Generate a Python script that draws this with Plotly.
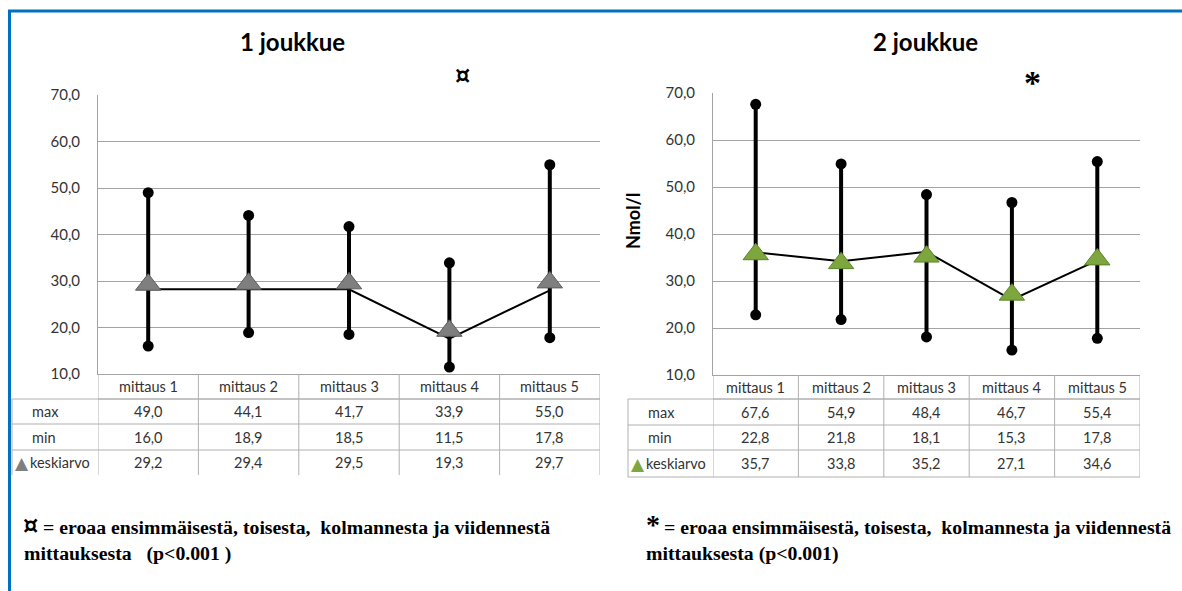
import plotly.graph_objects as go

W, H = 1182, 591

categories = ["mittaus 1", "mittaus 2", "mittaus 3", "mittaus 4", "mittaus 5"]
row_labels = ["max", "min", "keskiarvo"]

max_1 = [49.0, 44.1, 41.7, 33.9, 55.0]
min_1 = [16.0, 18.9, 18.5, 11.5, 17.8]
mean_1 = [29.2, 29.4, 29.5, 19.3, 29.7]
line_1 = [28.2, 28.2, 28.2, 17.6, 28.0]

max_2 = [67.6, 54.9, 48.4, 46.7, 55.4]
min_2 = [22.8, 21.8, 18.1, 15.3, 17.8]
mean_2 = [35.7, 33.8, 35.2, 27.1, 34.6]
line_2 = [36.1, 34.2, 36.2, 26.0, 34.4]

titles = ["1 joukkue", "2 joukkue"]
marks = ["¤", "*"]
y_title = "Nmol/l"
note_1 = ["= eroaa ensimmäisestä, toisesta,\u00a0\u00a0kolmannesta ja viidennestä",
          "mittauksesta\u00a0\u00a0\u00a0(p<0.001 )"]
note_2 = ["= eroaa ensimmäisestä, toisesta,\u00a0\u00a0kolmannesta ja viidennestä",
          "mittauksesta (p<0.001)"]

FONT = "Lato"
GRID = "#a3a3a3"
TABLE = "#b0b0b0"
TXT = "#333333"


def px(x):
    return x / W


def py(y):
    return 1 - y / H


fig = go.Figure()

panels = [
    dict(xa="x", ya="y", x0=98, x1=600, ytop=95, ybot=374, lab0=12,
         maxv=max_1, minv=min_1, meanv=mean_1, linev=line_1,
         tri="#7f7f7f", triline="#5c5c5c", rows=[374, 399, 424, 450, 475],
         title_x=292, bottom_line=False),
    dict(xa="x2", ya="y2", x0=713, x1=1140, ytop=93, ybot=375, lab0=628,
         maxv=max_2, minv=min_2, meanv=mean_2, linev=line_2,
         tri="#7ea63f", triline="#5b842a", rows=[375, 399, 425, 450, 477],
         title_x=925, bottom_line=True),
]

shapes = []
annotations = []
xs = list(range(len(categories)))


def ann(x, y, text, size, family=FONT, color=TXT, xanchor="center", xref="paper", **kw):
    d = dict(x=x, y=y, xref=xref, yref="paper", text=text, showarrow=False,
             xanchor=xanchor, yanchor="middle",
             font=dict(family=family, size=size, color=color))
    d.update(kw)
    annotations.append(d)


for k, p in enumerate(panels):
    xa, ya = p["xa"], p["ya"]
    vx, vy = [], []
    for i in xs:
        vx += [i, i, None]
        vy += [p["minv"][i], p["maxv"][i], None]
    fig.add_trace(go.Scatter(x=vx, y=vy, mode="lines", xaxis=xa, yaxis=ya,
                             line=dict(color="black", width=4),
                             showlegend=False, hoverinfo="skip"))
    fig.add_trace(go.Scatter(x=xs, y=p["linev"], mode="lines", xaxis=xa, yaxis=ya,
                             line=dict(color="black", width=2),
                             showlegend=False))
    fig.add_trace(go.Scatter(x=xs, y=p["meanv"], mode="markers", xaxis=xa, yaxis=ya,
                             marker=dict(symbol="triangle-up", size=22, color=p["tri"],
                                         line=dict(color=p["triline"], width=1)),
                             showlegend=False, name="keskiarvo"))
    fig.add_trace(go.Scatter(x=xs + xs, y=p["maxv"] + p["minv"], mode="markers",
                             xaxis=xa, yaxis=ya,
                             marker=dict(symbol="circle", size=11, color="black"),
                             showlegend=False))

    r = p["rows"]
    shapes.append(dict(type="line", xref="paper", yref="paper",
                       x0=px(p["x0"]), x1=px(p["x1"]), y0=py(r[1]), y1=py(r[1]),
                       line=dict(color=TABLE, width=1)))
    for yy in r[1:4] + ([r[4]] if p["bottom_line"] else []):
        shapes.append(dict(type="line", xref="paper", yref="paper",
                           x0=px(p["lab0"]), x1=px(p["x1"]), y0=py(yy), y1=py(yy),
                           line=dict(color=TABLE, width=1)))
    shapes.append(dict(type="line", xref="paper", yref="paper",
                       x0=px(p["lab0"]), x1=px(p["lab0"]), y0=py(r[1]), y1=py(r[4]),
                       line=dict(color=TABLE, width=1)))
    for i in range(len(categories) + 1):
        shapes.append(dict(type="line", xref=xa, yref="paper",
                           x0=i - 0.5, x1=i - 0.5, y0=py(r[0]), y1=py(r[4]),
                           line=dict(color=TABLE, width=1)))

    rows_vals = [p["maxv"], p["minv"], p["meanv"]]
    for i, c in enumerate(categories):
        ann(i, py((r[0] + r[1]) / 2), c, 14.5, xref=xa)
        for j, vals in enumerate(rows_vals):
            ann(i, py((r[j + 1] + r[j + 2]) / 2), f"{vals[i]:.1f}".replace(".", ","), 14.5, xref=xa)
    for j, lab in enumerate(row_labels):
        yy = py((r[j + 1] + r[j + 2]) / 2)
        if lab == "keskiarvo":
            ann(px(p["lab0"] + 1), yy, "▲", 17, family="DejaVu Sans", color=p["tri"], xanchor="left")
            ann(px(p["lab0"] + 16), yy, lab, 14.5, xanchor="left")
        else:
            ann(px(p["lab0"] + 18), yy, lab, 14.5, xanchor="left")

    ann(px(p["title_x"]), py(42), f"<b>{titles[k]}</b>", 24, color="black")

ann(px(462), py(76), "<b>" + marks[0] + "</b>", 24, family="DejaVu Sans", color="black")
ann(px(1032), py(82), "<b>" + marks[1] + "</b>", 34, family="Liberation Serif", color="black")

ann(px(633), py(221), f"<b>{y_title}</b>", 18, color="black", textangle=-90)

SERIF = "Liberation Serif"
NS = 19.8
ann(px(21), py(526), "<b>" + marks[0] + "</b>", 24, family="DejaVu Sans", color="black", xanchor="left")
ann(px(41), py(527), f"<b>{note_1[0]}</b>", NS, family=SERIF, color="black", xanchor="left")
ann(px(22), py(553), f"<b>{note_1[1]}</b>", NS, family=SERIF, color="black", xanchor="left")
ann(px(644), py(524), "<b>" + marks[1] + "</b>", 28, family=SERIF, color="black", xanchor="left")
ann(px(662), py(527), f"<b>{note_2[0]}</b>", NS, family=SERIF, color="black", xanchor="left")
ann(px(644), py(553), f"<b>{note_2[1]}</b>", NS, family=SERIF, color="black", xanchor="left")

shapes.append(dict(type="line", xref="paper", yref="paper", x0=px(8), x1=1, y0=py(11), y1=py(11),
                   line=dict(color="#0070c0", width=3)))
shapes.append(dict(type="line", xref="paper", yref="paper", x0=px(9.5), x1=px(9.5), y0=py(10), y1=0,
                   line=dict(color="#0070c0", width=3)))

axis_common = dict(range=[10, 70], dtick=10, tickformat=".1f", showgrid=True,
                   gridcolor=GRID, gridwidth=1, showline=True, linecolor=GRID,
                   zeroline=False, ticks="", ticklabelstandoff=14, automargin=False,
                   tickfont=dict(family=FONT, size=15, color=TXT))
xaxis_common = dict(range=[-0.5, 4.5], showgrid=False, showticklabels=False,
                    showline=True, linecolor=GRID, zeroline=False, ticks="", automargin=False)

p1, p2 = panels
fig.update_layout(
    width=W, height=H,
    margin=dict(l=0, r=0, t=0, b=0, autoexpand=False),
    paper_bgcolor="white", plot_bgcolor="white",
    separators=", ",
    showlegend=False,
    xaxis=dict(domain=[px(p1["x0"]), px(p1["x1"])], anchor="y", **xaxis_common),
    yaxis=dict(domain=[py(p1["ybot"]), py(p1["ytop"])], anchor="x", **axis_common),
    xaxis2=dict(domain=[px(p2["x0"]), px(p2["x1"])], anchor="y2", **xaxis_common),
    yaxis2=dict(domain=[py(p2["ybot"]), py(p2["ytop"])], anchor="x2", **axis_common),
    shapes=shapes,
    annotations=annotations,
)

fig.write_html("out.html")
